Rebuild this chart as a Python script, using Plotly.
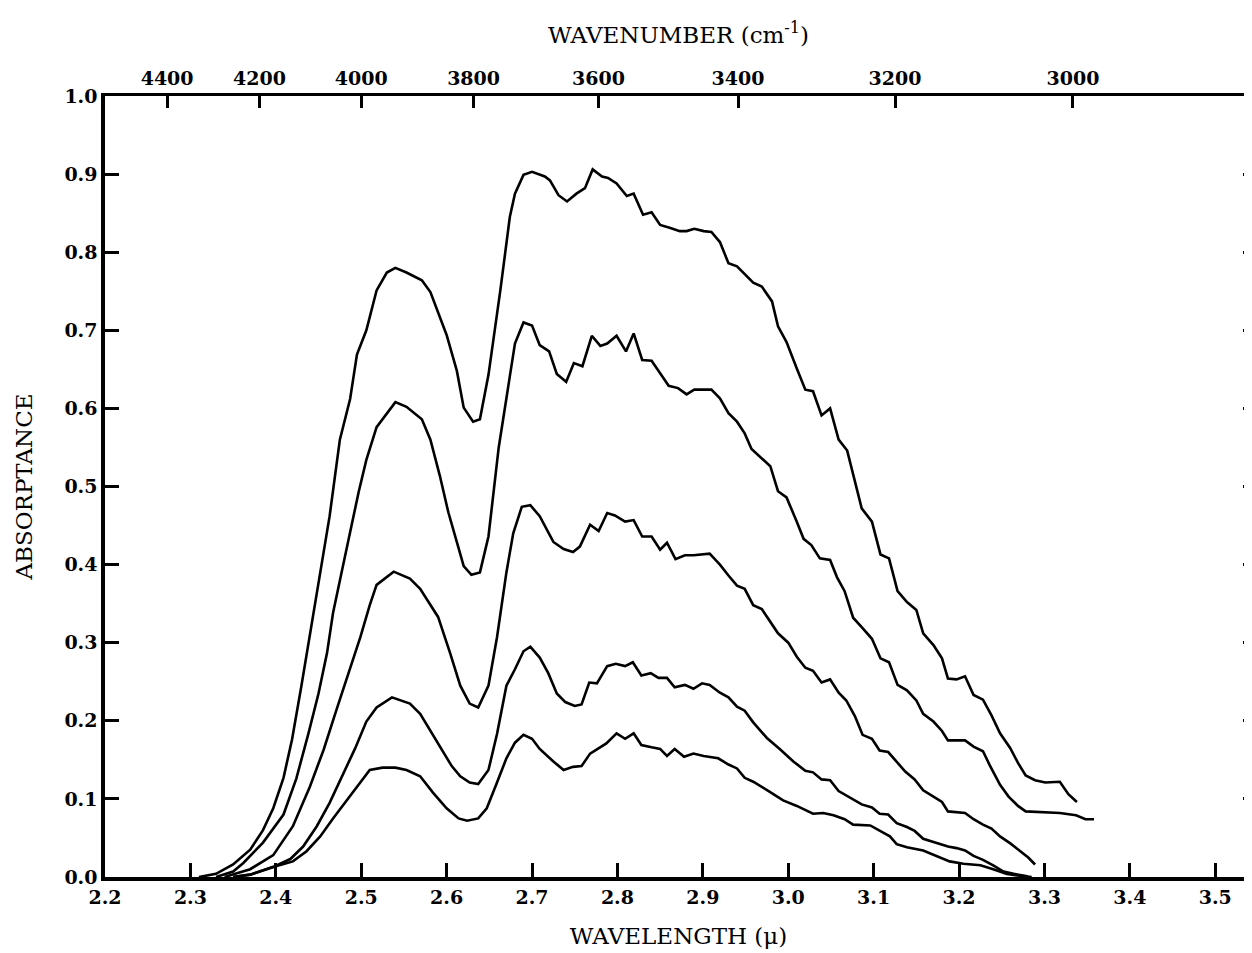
import plotly.graph_objects as go

# ---- data (wavelength in microns, absorptance) ----
wl_1 = [2.310, 2.330, 2.350, 2.370, 2.385, 2.397, 2.409, 2.419, 2.430, 2.440, 2.452, 2.463, 2.475, 2.487, 2.495,
        2.506, 2.518, 2.530, 2.540, 2.553, 2.571, 2.581, 2.600, 2.612, 2.620, 2.631, 2.639, 2.649, 2.663, 2.674,
        2.680, 2.690, 2.700, 2.715, 2.721, 2.731, 2.741, 2.752, 2.762, 2.771, 2.782, 2.789, 2.799, 2.811, 2.819,
        2.830, 2.840, 2.850, 2.862, 2.873, 2.881, 2.890, 2.901, 2.910, 2.920, 2.930, 2.940, 2.949, 2.959, 2.969,
        2.981, 2.988, 2.998, 3.010, 3.020, 3.029, 3.039, 3.049, 3.059, 3.069, 3.078, 3.086, 3.098, 3.108, 3.118,
        3.128, 3.139, 3.150, 3.158, 3.170, 3.180, 3.187, 3.197, 3.207, 3.217, 3.228, 3.238, 3.248, 3.260, 3.269,
        3.278, 3.289, 3.301, 3.318, 3.328, 3.338]
abs_1 = [0.000, 0.004, 0.016, 0.035, 0.060, 0.088, 0.127, 0.176, 0.245, 0.312, 0.390, 0.462, 0.560, 0.612, 0.669,
         0.700, 0.751, 0.774, 0.780, 0.774, 0.764, 0.749, 0.694, 0.648, 0.601, 0.583, 0.586, 0.643, 0.752, 0.845,
         0.875, 0.899, 0.903, 0.897, 0.892, 0.873, 0.865, 0.875, 0.882, 0.906, 0.897, 0.895, 0.888, 0.872, 0.875,
         0.848, 0.851, 0.835, 0.831, 0.827, 0.827, 0.830, 0.827, 0.826, 0.813, 0.786, 0.782, 0.772, 0.761, 0.756,
         0.737, 0.705, 0.685, 0.651, 0.624, 0.622, 0.591, 0.600, 0.560, 0.546, 0.506, 0.472, 0.455, 0.413, 0.408,
         0.366, 0.352, 0.342, 0.312, 0.297, 0.280, 0.254, 0.253, 0.257, 0.233, 0.227, 0.207, 0.184, 0.165, 0.146,
         0.130, 0.124, 0.121, 0.122, 0.106, 0.096]

wl_2 = [2.330, 2.350, 2.362, 2.385, 2.409, 2.424, 2.438, 2.450, 2.460, 2.467, 2.477, 2.487, 2.497, 2.506, 2.518,
        2.540, 2.553, 2.571, 2.581, 2.592, 2.602, 2.614, 2.620, 2.629, 2.639, 2.649, 2.661, 2.674, 2.680, 2.690,
        2.700, 2.709, 2.720, 2.729, 2.740, 2.749, 2.759, 2.770, 2.780, 2.788, 2.799, 2.810, 2.819, 2.829, 2.840,
        2.850, 2.860, 2.871, 2.881, 2.890, 2.910, 2.920, 2.930, 2.940, 2.949, 2.957, 2.979, 2.988, 2.998, 3.010,
        3.018, 3.027, 3.037, 3.049, 3.057, 3.066, 3.076, 3.086, 3.098, 3.108, 3.118, 3.128, 3.139, 3.150, 3.158,
        3.170, 3.180, 3.187, 3.207, 3.217, 3.228, 3.236, 3.248, 3.258, 3.269, 3.278, 3.299, 3.318, 3.337, 3.348,
        3.358]
abs_2 = [0.000, 0.007, 0.018, 0.044, 0.080, 0.126, 0.183, 0.235, 0.287, 0.338, 0.390, 0.441, 0.493, 0.534, 0.576,
         0.608, 0.602, 0.586, 0.560, 0.514, 0.467, 0.421, 0.398, 0.387, 0.390, 0.436, 0.550, 0.641, 0.683, 0.710,
         0.706, 0.681, 0.673, 0.644, 0.634, 0.658, 0.654, 0.693, 0.680, 0.683, 0.693, 0.673, 0.696, 0.662, 0.661,
         0.645, 0.629, 0.626, 0.618, 0.624, 0.624, 0.613, 0.594, 0.583, 0.568, 0.548, 0.526, 0.494, 0.486, 0.455,
         0.433, 0.425, 0.408, 0.406, 0.384, 0.366, 0.332, 0.320, 0.305, 0.280, 0.275, 0.246, 0.239, 0.226, 0.209,
         0.199, 0.187, 0.175, 0.175, 0.167, 0.161, 0.143, 0.118, 0.103, 0.091, 0.084, 0.083, 0.082, 0.079, 0.074,
         0.074]

wl_3 = [2.340, 2.370, 2.397, 2.420, 2.440, 2.456, 2.471, 2.485, 2.499, 2.510, 2.518, 2.538, 2.557, 2.569, 2.590,
        2.604, 2.616, 2.627, 2.637, 2.649, 2.659, 2.670, 2.678, 2.688, 2.698, 2.709, 2.725, 2.737, 2.748, 2.756,
        2.768, 2.778, 2.788, 2.797, 2.809, 2.819, 2.829, 2.840, 2.850, 2.858, 2.868, 2.879, 2.889, 2.908, 2.920,
        2.930, 2.940, 2.949, 2.959, 2.969, 2.979, 2.988, 3.000, 3.010, 3.020, 3.029, 3.039, 3.049, 3.059, 3.068,
        3.078, 3.087, 3.098, 3.107, 3.117, 3.127, 3.137, 3.148, 3.158, 3.170, 3.180, 3.187, 3.207, 3.217, 3.228,
        3.238, 3.248, 3.260, 3.271, 3.281, 3.289]
abs_3 = [0.000, 0.010, 0.028, 0.065, 0.116, 0.163, 0.214, 0.261, 0.307, 0.348, 0.374, 0.391, 0.382, 0.369, 0.333,
         0.287, 0.245, 0.222, 0.217, 0.245, 0.307, 0.390, 0.440, 0.474, 0.476, 0.462, 0.429, 0.420, 0.416, 0.423,
         0.451, 0.443, 0.466, 0.463, 0.455, 0.457, 0.436, 0.436, 0.419, 0.428, 0.407, 0.412, 0.412, 0.414, 0.400,
         0.386, 0.373, 0.369, 0.348, 0.343, 0.326, 0.312, 0.300, 0.282, 0.268, 0.264, 0.249, 0.253, 0.236, 0.226,
         0.206, 0.182, 0.177, 0.162, 0.160, 0.147, 0.135, 0.125, 0.111, 0.103, 0.096, 0.084, 0.082, 0.074, 0.067,
         0.062, 0.052, 0.043, 0.033, 0.025, 0.016]

wl_4 = [2.350, 2.370, 2.397, 2.417, 2.432, 2.448, 2.463, 2.479, 2.493, 2.506, 2.518, 2.536, 2.557, 2.569, 2.592,
        2.606, 2.616, 2.627, 2.637, 2.649, 2.659, 2.670, 2.680, 2.690, 2.698, 2.709, 2.719, 2.729, 2.739, 2.750,
        2.758, 2.767, 2.776, 2.788, 2.798, 2.809, 2.818, 2.828, 2.839, 2.848, 2.858, 2.867, 2.879, 2.889, 2.899,
        2.908, 2.920, 2.930, 2.940, 2.949, 2.959, 2.975, 2.990, 3.006, 3.020, 3.029, 3.039, 3.049, 3.059, 3.070,
        3.086, 3.098, 3.107, 3.117, 3.127, 3.139, 3.148, 3.158, 3.174, 3.187, 3.197, 3.207, 3.217, 3.228, 3.240,
        3.252, 3.264, 3.280]
abs_4 = [0.000, 0.003, 0.013, 0.023, 0.039, 0.065, 0.095, 0.132, 0.165, 0.199, 0.217, 0.230, 0.222, 0.209, 0.168,
         0.142, 0.129, 0.121, 0.119, 0.137, 0.183, 0.245, 0.266, 0.289, 0.295, 0.281, 0.261, 0.235, 0.224, 0.219,
         0.221, 0.249, 0.248, 0.270, 0.273, 0.270, 0.275, 0.258, 0.261, 0.255, 0.255, 0.243, 0.246, 0.241, 0.248,
         0.246, 0.236, 0.230, 0.218, 0.213, 0.198, 0.178, 0.164, 0.148, 0.136, 0.134, 0.125, 0.124, 0.110, 0.103,
         0.093, 0.089, 0.081, 0.080, 0.069, 0.064, 0.059, 0.049, 0.044, 0.039, 0.037, 0.034, 0.027, 0.022, 0.015,
         0.007, 0.004, 0.001]

wl_5 = [2.350, 2.370, 2.401, 2.420, 2.436, 2.452, 2.467, 2.483, 2.499, 2.510, 2.525, 2.540, 2.553, 2.569, 2.584,
        2.600, 2.614, 2.624, 2.637, 2.647, 2.659, 2.670, 2.680, 2.690, 2.700, 2.709, 2.725, 2.737, 2.748, 2.758,
        2.768, 2.787, 2.799, 2.809, 2.819, 2.828, 2.840, 2.850, 2.858, 2.867, 2.878, 2.889, 2.901, 2.918, 2.930,
        2.940, 2.949, 2.959, 2.977, 2.994, 3.010, 3.018, 3.029, 3.041, 3.053, 3.066, 3.076, 3.096, 3.107, 3.119,
        3.127, 3.139, 3.158, 3.174, 3.189, 3.205, 3.225, 3.240, 3.256, 3.268, 3.285]
abs_5 = [0.000, 0.003, 0.014, 0.020, 0.033, 0.052, 0.075, 0.098, 0.121, 0.137, 0.140, 0.140, 0.137, 0.129, 0.108,
         0.088, 0.075, 0.072, 0.075, 0.088, 0.121, 0.152, 0.172, 0.182, 0.177, 0.164, 0.148, 0.137, 0.141, 0.142,
         0.158, 0.171, 0.184, 0.177, 0.184, 0.169, 0.166, 0.164, 0.155, 0.164, 0.154, 0.158, 0.155, 0.152, 0.144,
         0.139, 0.127, 0.122, 0.110, 0.098, 0.091, 0.087, 0.081, 0.082, 0.079, 0.074, 0.067, 0.066, 0.059, 0.052,
         0.042, 0.038, 0.034, 0.027, 0.020, 0.017, 0.015, 0.010, 0.004, 0.002, 0.000]

# axis ticks
wavelength_ticks = [2.2, 2.3, 2.4, 2.5, 2.6, 2.7, 2.8, 2.9, 3.0, 3.1, 3.2, 3.3, 3.4, 3.5]
wavenumber_ticks = [4400, 4200, 4000, 3800, 3600, 3400, 3200, 3000]
absorptance_ticks = [0.0, 0.1, 0.2, 0.3, 0.4, 0.5, 0.6, 0.7, 0.8, 0.9, 1.0]

X_RANGE = [2.2, 3.543]
Y_RANGE = [0.0, 1.0]
FONT = "DejaVu Serif"
TICK_FONT = dict(family=FONT, size=19, weight="bold")
TITLE_FONT = dict(family=FONT, size=23)

fig = go.Figure()
for wl, ab in [(wl_1, abs_1), (wl_2, abs_2), (wl_3, abs_3), (wl_4, abs_4), (wl_5, abs_5)]:
    fig.add_trace(go.Scatter(x=wl, y=ab, mode="lines",
                             line=dict(color="black", width=2.6),
                             showlegend=False, hoverinfo="skip"))

# empty trace to instantiate the top / right mirror axes
fig.add_trace(go.Scatter(x=[], y=[], xaxis="x2", yaxis="y2", showlegend=False, hoverinfo="skip"))

fig.update_layout(
    width=1244, height=945,
    margin=dict(l=97, r=0, t=88, b=76),
    paper_bgcolor="white", plot_bgcolor="white",
    font=dict(family=FONT, color="black", size=20),
    xaxis=dict(
        range=X_RANGE, showgrid=False, zeroline=False,
        showline=True, linecolor="black", linewidth=3.5,
        ticks="inside", ticklen=14, tickwidth=2.5, tickcolor="black",
        tickvals=wavelength_ticks, ticktext=[f"{v:.1f}" for v in wavelength_ticks],
        tickfont=TICK_FONT,
        title=dict(text="WAVELENGTH (\u03bc)", font=TITLE_FONT, standoff=22),
    ),
    yaxis=dict(
        range=Y_RANGE, showgrid=False, zeroline=False,
        showline=True, linecolor="black", linewidth=3.5,
        ticks="inside", ticklen=14, tickwidth=2.5, tickcolor="black",
        tickvals=absorptance_ticks, ticktext=[f"{v:.1f}" for v in absorptance_ticks],
        tickfont=TICK_FONT,
        title=dict(text="ABSORPTANCE", font=TITLE_FONT, standoff=26),
    ),
    xaxis2=dict(
        range=X_RANGE, overlaying="x", side="top", anchor="y",
        showgrid=False, zeroline=False,
        showline=True, linecolor="black", linewidth=3,
        ticks="inside", ticklen=12, tickwidth=2.5, tickcolor="black",
        tickvals=[10000.0 / w for w in wavenumber_ticks],
        ticktext=[str(w) for w in wavenumber_ticks],
        tickfont=TICK_FONT,
        title=dict(text="WAVENUMBER (cm<sup>-1</sup>)", font=TITLE_FONT, standoff=18),
    ),
    yaxis2=dict(
        range=Y_RANGE, overlaying="y", side="right", anchor="x",
        showgrid=False, zeroline=False, showline=False,
        ticks="inside", ticklen=9, tickwidth=2.5, tickcolor="black",
        tickvals=absorptance_ticks[1:-1], showticklabels=False,
    ),
)

fig.write_html("out.html")
